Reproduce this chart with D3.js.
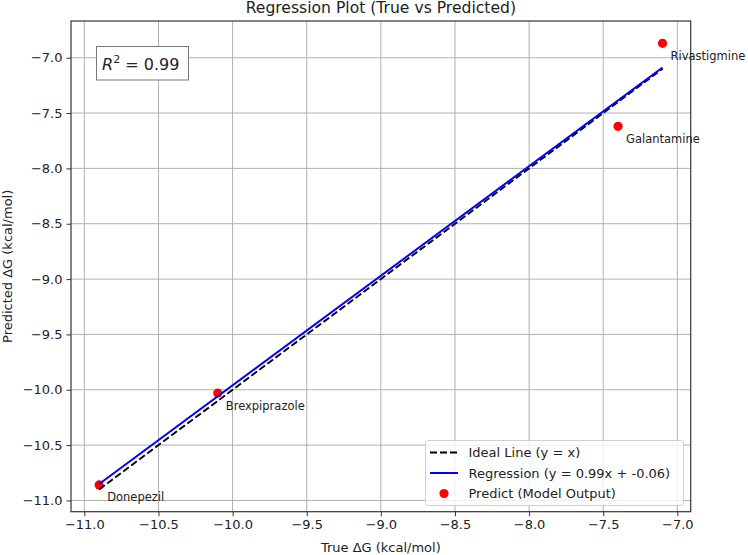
<!DOCTYPE html>
<html>
<head>
<meta charset="utf-8">
<script src="https://cdn.jsdelivr.net/npm/d3@7"></script>
<style>
  html, body { margin: 0; padding: 0; background: #fff; }
  svg { display: block; font-family: "DejaVu Sans", sans-serif; }
</style>
</head>
<body>
<svg id="chart" width="748" height="555"></svg>
<script>
// ---- data ----
const drugs = ["Donepezil", "Brexpiprazole", "Galantamine", "Rivastigmine"];
const trueDG = [-10.9, -10.1, -7.4, -7.1];
const predDG = [-10.86, -10.03, -7.62, -6.87];
const xTicks = [-11.0, -10.5, -10.0, -9.5, -9.0, -8.5, -8.0, -7.5, -7.0];
const yTicks = [-11.0, -10.5, -10.0, -9.5, -9.0, -8.5, -8.0, -7.5, -7.0];
const slope = 0.99;
const intercept = -0.06;
const r2 = 0.99;
const legendLabels = ["Ideal Line (y = x)", "Regression (y = 0.99x + -0.06)", "Predict (Model Output)"];

// ---- layout ----
const W = 748, H = 555;
const margin = { left: 71, right: 57.3, top: 21, bottom: 43.3 };
const svg = d3.select("#chart");

const xMin = d3.min(trueDG), xMax = d3.max(trueDG);
const xPad = (xMax - xMin) * 0.05;
const yAll = predDG.concat(trueDG.filter((d,i)=> i===0 || i===trueDG.length-1));
const yLo = Math.min(d3.min(predDG), xMin), yHi = Math.max(d3.max(predDG), xMax);
const yPad = (yHi - yLo) * 0.05;

const x = d3.scaleLinear().domain([xMin - xPad, xMax + xPad]).range([margin.left, W - margin.right]);
const y = d3.scaleLinear().domain([yLo - yPad, yHi + yPad]).range([H - margin.bottom, margin.top]);

const fmt = d3.format(".1f");

// grid
const grid = svg.append("g");
grid.selectAll(".gx").data(xTicks).join("line")
  .attr("x1", d => x(d)).attr("x2", d => x(d))
  .attr("y1", margin.top).attr("y2", H - margin.bottom)
  .attr("stroke", "#b0b0b0").attr("stroke-width", 1);
grid.selectAll(".gy").data(yTicks).join("line")
  .attr("y1", d => y(d)).attr("y2", d => y(d))
  .attr("x1", margin.left).attr("x2", W - margin.right)
  .attr("stroke", "#b0b0b0").attr("stroke-width", 1);

// axes
const xAxis = svg.append("g").attr("transform", `translate(0,${H - margin.bottom})`)
  .call(d3.axisBottom(x).tickValues(xTicks).tickFormat(fmt).tickSize(4.5).tickPadding(4));
const yAxis = svg.append("g").attr("transform", `translate(${margin.left},0)`)
  .call(d3.axisLeft(y).tickValues(yTicks).tickFormat(fmt).tickSize(4.5).tickPadding(4));
[xAxis, yAxis].forEach(a => {
  a.select(".domain").remove();
  a.selectAll(".tick line").attr("stroke", "#333").attr("stroke-width", 1);
  a.selectAll(".tick text").attr("font-size", 13).attr("fill", "#222")
    .attr("font-family", "DejaVu Sans, sans-serif");
});

// frame
svg.append("rect")
  .attr("x", margin.left).attr("y", margin.top)
  .attr("width", W - margin.left - margin.right)
  .attr("height", H - margin.top - margin.bottom)
  .attr("fill", "none").attr("stroke", "#333").attr("stroke-width", 1.2);

// scatter
svg.append("g").selectAll("circle").data(drugs).join("circle")
  .attr("cx", (d, i) => x(trueDG[i])).attr("cy", (d, i) => y(predDG[i]))
  .attr("r", 4.6).attr("fill", "#ff0000");

// ideal line
const lineXs = [xMin, xMax];
svg.append("line")
  .attr("x1", x(lineXs[0])).attr("y1", y(lineXs[0]))
  .attr("x2", x(lineXs[1])).attr("y2", y(lineXs[1]))
  .attr("stroke", "#000").attr("stroke-width", 1.9)
  .attr("stroke-dasharray", "7,3");

// regression line
svg.append("line")
  .attr("x1", x(lineXs[0])).attr("y1", y(slope * lineXs[0] + intercept))
  .attr("x2", x(lineXs[1])).attr("y2", y(slope * lineXs[1] + intercept))
  .attr("stroke", "#0000ff").attr("stroke-width", 2);

// annotations
svg.append("g").selectAll("text").data(drugs).join("text")
  .attr("x", (d, i) => x(trueDG[i]) + 8)
  .attr("y", (d, i) => y(predDG[i]) + 16.5)
  .attr("font-size", 11.5).attr("fill", "#222")
  .text(d => d);

// R^2 box
const rb = svg.append("g");
rb.append("rect").attr("x", 96.5).attr("y", 46.5).attr("width", 92).attr("height", 33.5)
  .attr("fill", "#fff").attr("stroke", "#777").attr("stroke-width", 1);
const rt = rb.append("text").attr("x", 102).attr("y", 70).attr("font-size", 16).attr("fill", "#222");
rt.append("tspan").attr("font-style", "italic").text("R");
rt.append("tspan").attr("font-size", 11).attr("dy", -7).text("2");
rt.append("tspan").attr("dy", 7).text(" = " + d3.format(".2f")(r2));

// title
svg.append("text")
  .attr("x", (margin.left + W - margin.right) / 2).attr("y", 13)
  .attr("text-anchor", "middle").attr("font-size", 15.6).attr("fill", "#222")
  .text("Regression Plot (True vs Predicted)");

// axis labels
svg.append("text")
  .attr("x", (margin.left + W - margin.right) / 2).attr("y", 551.5)
  .attr("text-anchor", "middle").attr("font-size", 13).attr("fill", "#222")
  .text("True ΔG (kcal/mol)");
svg.append("text")
  .attr("transform", `translate(12,${(margin.top + H - margin.bottom) / 2}) rotate(-90)`)
  .attr("text-anchor", "middle").attr("font-size", 13).attr("fill", "#222")
  .text("Predicted ΔG (kcal/mol)");

// legend
const lg = svg.append("g");
lg.append("rect").attr("x", 425.5).attr("y", 440.5).attr("width", 258).attr("height", 65)
  .attr("rx", 3).attr("fill", "#fff").attr("fill-opacity", 0.8)
  .attr("stroke", "#d0d0d0").attr("stroke-width", 1);
const rowsY = [452.5, 473, 493.5];
lg.append("line").attr("x1", 430).attr("x2", 458).attr("y1", rowsY[0]).attr("y2", rowsY[0])
  .attr("stroke", "#000").attr("stroke-width", 1.9).attr("stroke-dasharray", "7,3");
lg.append("line").attr("x1", 430).attr("x2", 458).attr("y1", rowsY[1]).attr("y2", rowsY[1])
  .attr("stroke", "#0000ff").attr("stroke-width", 2);
lg.append("circle").attr("cx", 444).attr("cy", rowsY[2]).attr("r", 4.6).attr("fill", "#ff0000");
lg.selectAll("text.lt").data(legendLabels).join("text")
  .attr("x", 468.5).attr("y", (d, i) => rowsY[i] + 4.7)
  .attr("font-size", 13).attr("fill", "#222").text(d => d);
</script>
</body>
</html>
